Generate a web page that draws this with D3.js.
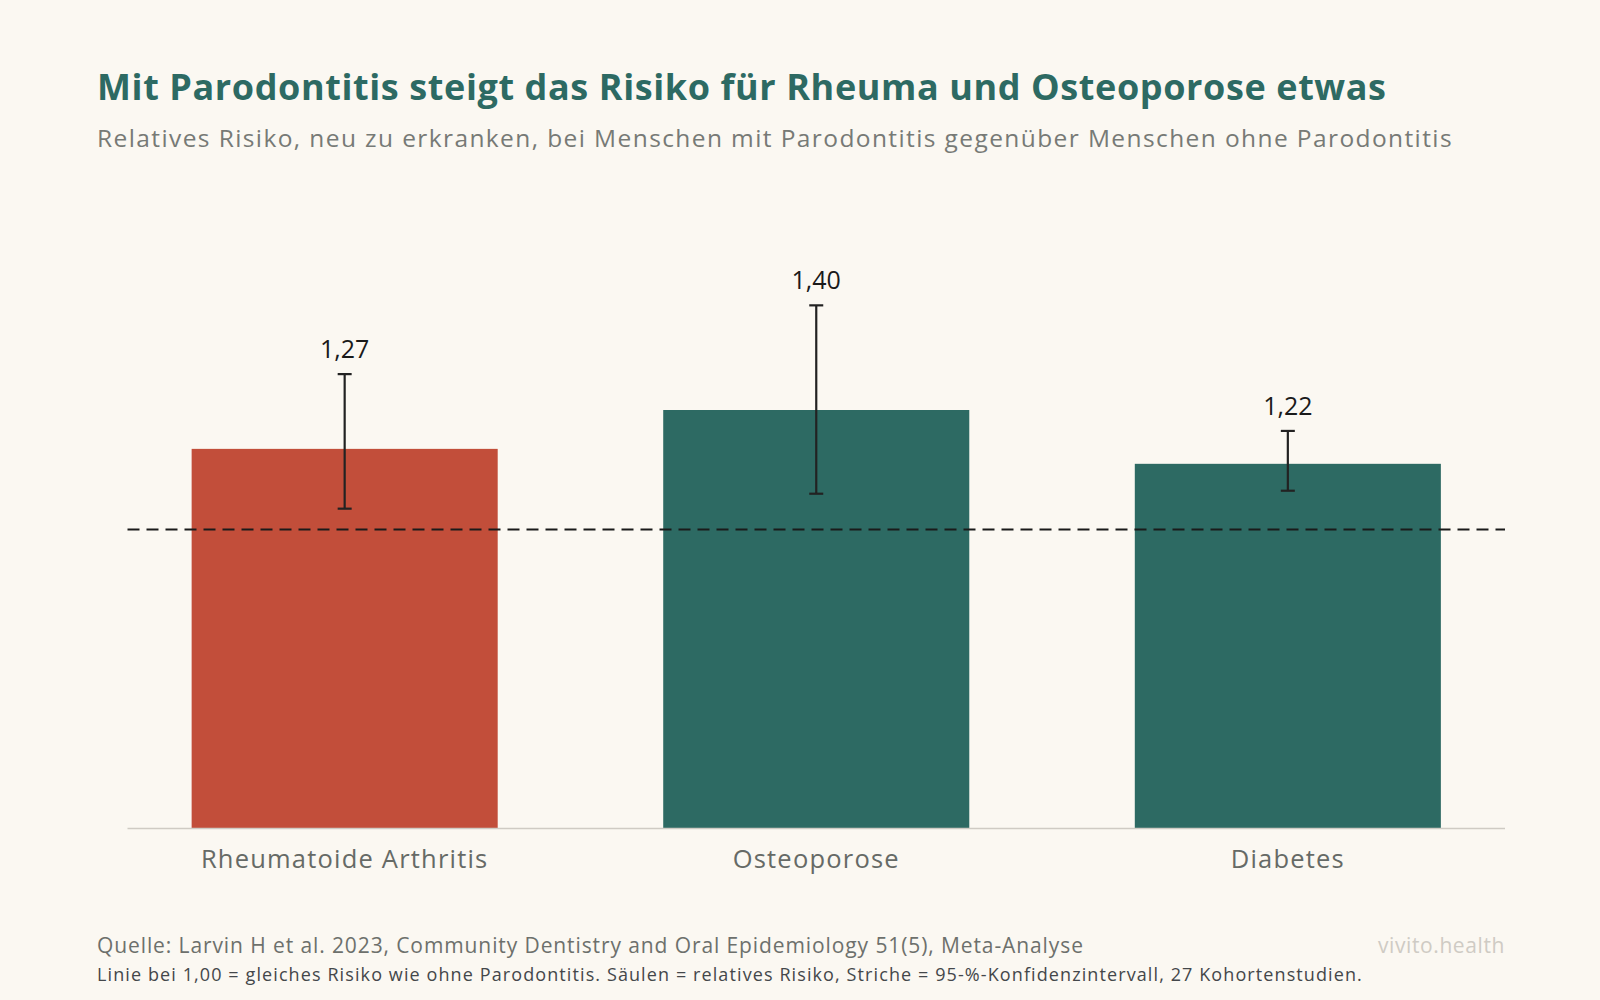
<!DOCTYPE html>
<html><head><meta charset="utf-8">
<script src="https://cdn.jsdelivr.net/npm/d3@7"></script>
<style>body{margin:0;background:#fbf8f2;} text{font-family:"Open Sans",Lato,sans-serif;}</style>
</head><body>
<svg id="chart"></svg>
<script>
var categories = ["Rheumatoide Arthritis", "Osteoporose", "Diabetes"];
var values = [1.27, 1.40, 1.22];
var lower = [1.07, 1.12, 1.13];
var upper = [1.52, 1.75, 1.33];
var colors = ["#c24e3a", "#2d6a63", "#2d6a63"];
var labels = ["1,27", "1,40", "1,22"];

var width = 1600, height = 1000;
var svg = d3.select("#chart").attr("width", width).attr("height", height);
svg.append("rect").attr("width", width).attr("height", height).attr("fill", "#fbf8f2");

var x = d3.scaleBand().domain(categories).range([127.5, 1505]).paddingInner(0.351).paddingOuter(0.136);
var y = d3.scaleLinear().domain([0, 2]).range([828.6, 230.6]);

svg.append("text").attr("x", 97).attr("y", 100).attr("font-size", 36).attr("font-weight", 700)
  .attr("letter-spacing", 0.6)
  .attr("fill", "#2d6a63").text("Mit Parodontitis steigt das Risiko für Rheuma und Osteoporose etwas");
svg.append("text").attr("x", 97).attr("y", 147).attr("font-size", 24.5).attr("fill", "#777a76")
  .attr("letter-spacing", 1.4)
  .text("Relatives Risiko, neu zu erkranken, bei Menschen mit Parodontitis gegenüber Menschen ohne Parodontitis");

svg.selectAll(".bar").data(categories).enter().append("rect")
  .attr("x", function(d){return x(d);})
  .attr("y", function(d,i){return y(values[i]);})
  .attr("width", x.bandwidth())
  .attr("height", function(d,i){return y(0)-y(values[i]);})
  .attr("fill", function(d,i){return colors[i];});

svg.append("line").attr("x1",127.5).attr("x2",1505).attr("y1",y(0)).attr("y2",y(0))
  .attr("stroke","#cfcbc4").attr("stroke-width",1.5);
svg.append("line").attr("x1",127.5).attr("x2",1505).attr("y1",y(1)).attr("y2",y(1))
  .attr("stroke","#1a1a1a").attr("stroke-width",2).attr("stroke-dasharray","12,7");

categories.forEach(function(c,i){
  var cx = x(c)+x.bandwidth()/2;
  var g = svg.append("g").attr("stroke","#222").attr("stroke-width",2.2);
  g.append("line").attr("x1",cx).attr("x2",cx).attr("y1",y(lower[i])).attr("y2",y(upper[i]));
  g.append("line").attr("x1",cx-7).attr("x2",cx+7).attr("y1",y(lower[i])).attr("y2",y(lower[i]));
  g.append("line").attr("x1",cx-7).attr("x2",cx+7).attr("y1",y(upper[i])).attr("y2",y(upper[i]));
  svg.append("text").attr("x",cx).attr("y",y(upper[i])-16).attr("text-anchor","middle")
    .attr("font-size",25).attr("fill","#1a1a1a").text(labels[i]);
  svg.append("text").attr("x",cx).attr("y",868).attr("text-anchor","middle")
    .attr("font-size",25.5).attr("letter-spacing",1.2).attr("fill","#666a66").text(c);
});

svg.append("text").attr("x",97).attr("y",953).attr("font-size",21).attr("fill","#6d706c")
  .attr("letter-spacing",0.9)
  .text("Quelle: Larvin H et al. 2023, Community Dentistry and Oral Epidemiology 51(5), Meta-Analyse");
svg.append("text").attr("x",97).attr("y",981).attr("font-size",18).attr("fill","#44474a")
  .attr("letter-spacing",1.1)
  .text("Linie bei 1,00 = gleiches Risiko wie ohne Parodontitis. Säulen = relatives Risiko, Striche = 95-%-Konfidenzintervall, 27 Kohortenstudien.");
svg.append("text").attr("x",1505).attr("y",953).attr("text-anchor","end").attr("font-size",21)
  .attr("letter-spacing",0.6)
  .attr("fill","#cfcbc4").text("vivito.health");
</script>
</body></html>
